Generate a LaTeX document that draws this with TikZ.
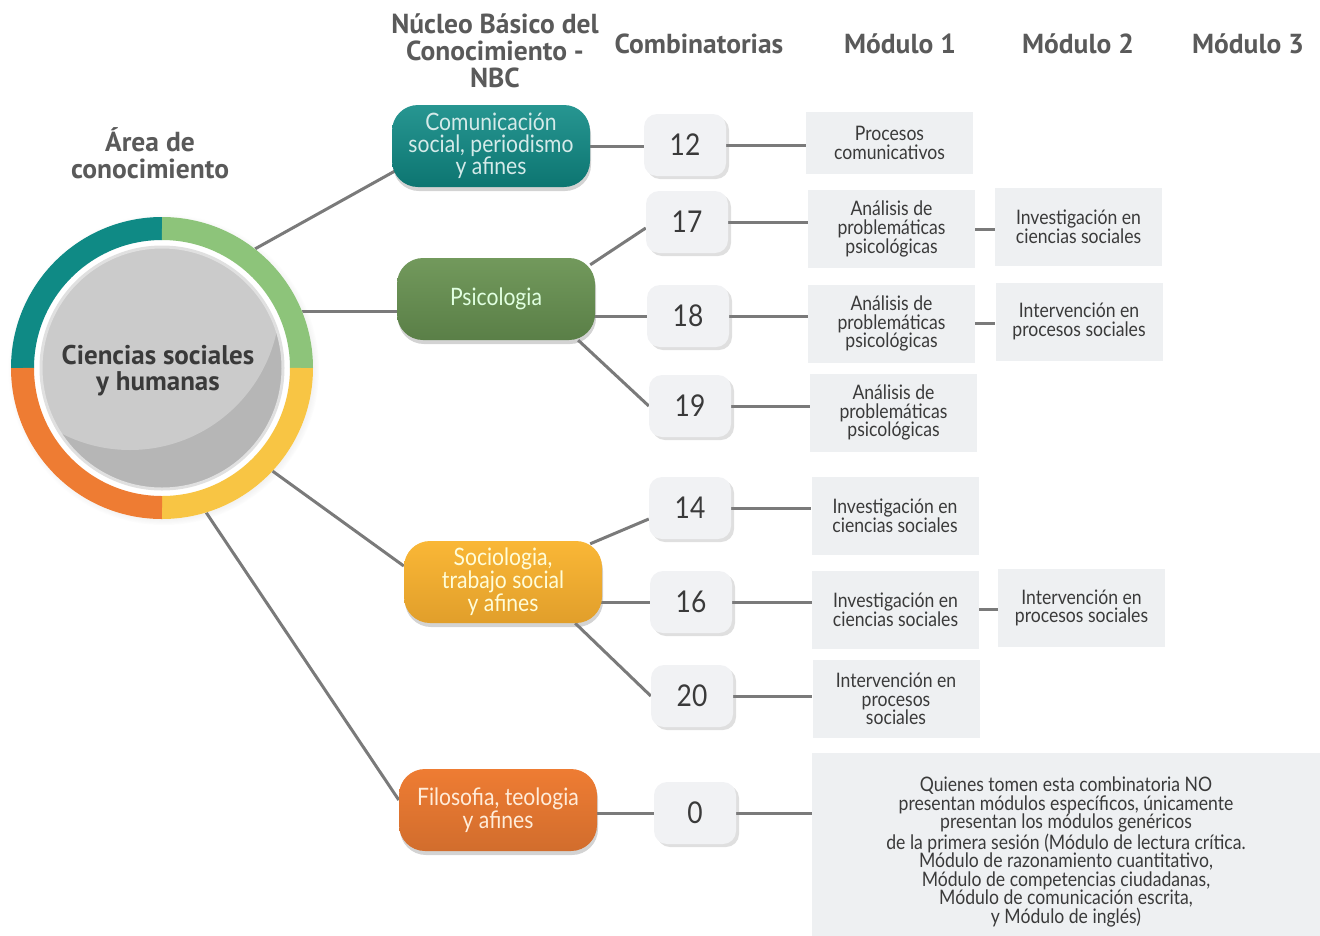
\documentclass[tikz,border=0pt]{standalone}
\usepackage{fontspec}
\setmainfont{Lato}[FakeStretch=0.88]
\newfontfamily\headfont{PT Sans}
\usetikzlibrary{shadows,calc,backgrounds}
\definecolor{linec}{HTML}{7A7A7A}
\definecolor{txt}{HTML}{3A3A3A}
\definecolor{headc}{HTML}{5A5A5A}
\definecolor{modfill}{HTML}{EEF0F2}
\definecolor{numfill}{HTML}{F1F2F4}
\definecolor{tealc}{HTML}{0F8A85}
\definecolor{greenc}{HTML}{8DC47A}
\definecolor{yellowc}{HTML}{F8C544}
\definecolor{orangec}{HTML}{EE7C33}
\definecolor{psiA}{HTML}{72995C}
\definecolor{psiB}{HTML}{5A7F47}
\definecolor{discA}{HTML}{CBCBCB}
\definecolor{discB}{HTML}{B6B6B6}
\tikzset{
  conn/.style={draw=linec, line width=3pt},
  pill/.style={rounded corners=26pt, minimum width=198pt, minimum height=82pt, align=center, inner sep=0pt,
    font=\fontsize{24}{22}\selectfont,
    drop shadow={shadow xshift=1pt, shadow yshift=-4pt, opacity=.35}},
  numbox/.style={rounded corners=13pt, fill=numfill, minimum width=82pt, minimum height=62pt, inner sep=0pt,
    font=\fontsize{30}{30}\selectfont, text=txt,
    drop shadow={shadow xshift=3pt, shadow yshift=-3pt, opacity=.25}},
  modbox/.style={fill=modfill, minimum width=167pt, minimum height=78pt, align=center, inner sep=0pt,
    font=\fontsize{20}{18.6}\selectfont, text=txt},
  head/.style={font=\headfont\bfseries\fontsize{27.5}{27}\selectfont, text=headc, align=center},
}
\begin{document}
\begin{tikzpicture}[x=1pt,y=-1pt]
\useasboundingbox (0,0) rectangle (1320,935);
% headers
\node[head] (hArea) at (150,153) {Área de\\conocimiento};
\node[head] (hNBC) at (495,51) {Núcleo Básico del\\Conocimiento -\\NBC};
\node[head] (hComb) at (699,44) {Combinatorias};
\node[head] (hM1) at (900,44) {Módulo 1};
\node[head] (hM2) at (1078,44) {Módulo 2};
\node[head] (hM3) at (1248,44) {Módulo 3};
% circle
\node[circle, minimum size=302pt, fill=white, inner sep=0pt,
  circular drop shadow={shadow scale=1.03, opacity=.35}] (area) at (162,368) {};
\draw[line width=23pt, tealc] (area.center) ++(90:139.5pt) arc[start angle=90, end angle=180, radius=139.5pt];
\draw[line width=23pt, greenc] (area.center) ++(0:139.5pt) arc[start angle=0, end angle=90, radius=139.5pt];
\draw[line width=23pt, yellowc] (area.center) ++(270:139.5pt) arc[start angle=270, end angle=360, radius=139.5pt];
\draw[line width=23pt, orangec] (area.center) ++(180:139.5pt) arc[start angle=180, end angle=270, radius=139.5pt];
\fill[discB] (area.center) circle[radius=121pt];
\begin{scope}
  \clip (area.center) circle[radius=121pt];
  \fill[discA] ($(area.center)+(-32pt,68pt)$) circle[radius=150pt];
\end{scope}
\draw[white!88!black, line width=3pt] (area.center) circle[radius=121pt];
\node[font=\headfont\bfseries\fontsize{27}{26}\selectfont, text=txt, align=center] (areaT) at (158,371) {Ciencias sociales\\y humanas};
% NBC pills
\node[pill, top color=tealc!90!white, bottom color=tealc!85!black, text=tealc!18!white] (com) at (491,146) {Comunicación\\social, periodismo\\y afines};
\node[pill, top color=psiA, bottom color=psiB, text=white!88!green] (psi) at (496,299) {Psicologia};
\node[pill, top color=yellowc!80!orange, bottom color=yellowc!70!orange!90!black, text=white!85!yellow] (soc) at (503,582) {Sociologia,\\trabajo social\\y afines};
\node[pill, top color=orangec, bottom color=orangec!88!black, text=white!85!orange] (filo) at (498,810) {Filosofia, teologia\\y afines};
% numbers
\node[numbox] (n12) at (685,145) {12};
\node[numbox] (n17) at (687,222) {17};
\node[numbox] (n18) at (688,316) {18};
\node[numbox] (n19) at (690,406) {19};
\node[numbox] (n14) at (690,508) {14};
\node[numbox] (n16) at (691,602) {16};
\node[numbox] (n20) at (692,696) {20};
\node[numbox] (n0) at (695,813) {0};
% module 1
\node[modbox, minimum height=62pt] (m12) at (889.5,143) {Procesos\\comunicativos};
\node[modbox] (m17) at (891.5,229) {Análisis de\\problemáticas\\psicológicas};
\node[modbox] (m18) at (891.5,323.5) {Análisis de\\problemáticas\\psicológicas};
\node[modbox] (m19) at (893.5,412.5) {Análisis de\\problemáticas\\psicológicas};
\node[modbox] (m14) at (895,515.5) {Investigación en\\ciencias sociales};
\node[modbox] (m16) at (895.5,609.5) {Investigación en\\ciencias sociales};
\node[modbox] (m20) at (896,699) {Intervención en\\procesos\\sociales};
% module 2
\node[modbox] (i17) at (1078.5,227) {Investigación en\\ciencias sociales};
\node[modbox] (i18) at (1079,321.5) {Intervención en\\procesos sociales};
\node[modbox] (i16) at (1081.5,608) {Intervención en\\procesos sociales};
% big box (extends below the page edge, as in the reference)
\node[modbox, minimum width=508pt, minimum height=198pt] (big) at (1066,852)
 {Quienes tomen esta combinatoria NO\\presentan módulos específicos, únicamente\\presentan los módulos genéricos\\de la primera sesión (Módulo de lectura crítica.\\Módulo de razonamiento cuantitativo,\\Módulo de competencias ciudadanas,\\Módulo de comunicación escrita,\\y Módulo de inglés)};
% connectors
\begin{scope}[on background layer]
  \draw[conn] (area.52.5) -- ([shift={(10pt,20pt)}]com.south west);
  \draw[conn] (area.22) -- (area.22 -| psi.center);
  \draw[conn] (area.-43.4) -- ([yshift=16pt]soc.west);
  \draw[conn] (area.-73.7) -- ([yshift=10pt]filo.west);
  \draw[conn] (com.east) -- (com.east -| n12.west);
  \draw[conn] ([shift={(-5pt,-7pt)}]psi.north east) -- ([yshift=-6pt]n17.west);
  \draw[conn] (n18.west) -- (n18.west -| psi.center);
  \draw[conn] ([xshift=-17pt]psi.south east) -- (n19.west);
  \draw[conn] ([shift={(-12pt,-3pt)}]soc.north east) -- ([yshift=-11pt]n14.west);
  \draw[conn] (n16.west) -- (n16.west -| soc.center);
  \draw[conn] ([xshift=-27pt]soc.south east) -- (n20.west);
  \draw[conn] (n0.west) -- (n0.west -| filo.center);
  \draw[conn] (n12.east) -- (n12.east -| m12.west);
  \draw[conn] (n17.east) -- (n17.east -| m17.west);
  \draw[conn] (n18.east) -- (n18.east -| m18.west);
  \draw[conn] (n19.east) -- (n19.east -| m19.west);
  \draw[conn] (n14.east) -- (n14.east -| m14.west);
  \draw[conn] (n16.east) -- (n16.east -| m16.west);
  \draw[conn] (n20.east) -- (n20.east -| m20.west);
  \draw[conn] (n0.east) -- (n0.east -| big.west);
  \draw[conn] (m17.east) -- (m17.east -| i17.west);
  \draw[conn] (m18.east) -- (m18.east -| i18.west);
  \draw[conn] (m16.east) -- (m16.east -| i16.west);
\end{scope}
\end{tikzpicture}
\end{document}
